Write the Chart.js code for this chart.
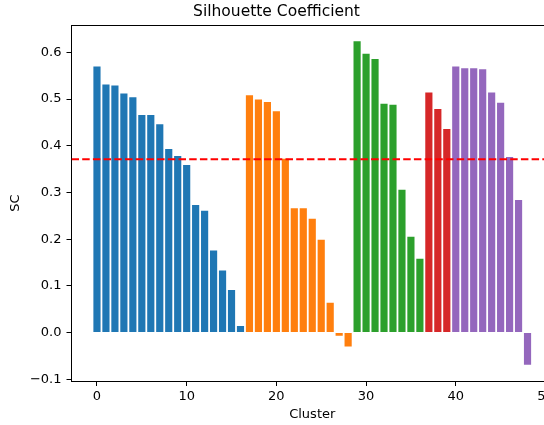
<!DOCTYPE html>
<html>
<head>
<meta charset="utf-8">
<script src="https://cdn.jsdelivr.net/npm/chart.js@4/dist/chart.umd.min.js"></script>
<style>
  html, body { margin: 0; padding: 0; background: #fff; overflow: hidden; }
  #wrap { width: 560px; height: 425px; }
</style>
</head>
<body>
<div id="wrap"><canvas id="scChart" width="560" height="425"></canvas></div>
<script>
// silhouette score per cluster, grouped by colour band
const blueSC   = [0.570, 0.531, 0.529, 0.512, 0.504, 0.466, 0.466, 0.446, 0.393, 0.378, 0.359, 0.273, 0.261, 0.176, 0.133, 0.091, 0.014];
const orangeSC = [0.508, 0.499, 0.494, 0.474, 0.372, 0.266, 0.266, 0.244, 0.199, 0.064, -0.007, -0.030];
const greenSC  = [0.624, 0.597, 0.586, 0.490, 0.488, 0.306, 0.205, 0.158];
const redSC    = [0.514, 0.479, 0.436];
const purpleSC = [0.570, 0.566, 0.566, 0.564, 0.514, 0.492, 0.376, 0.284, -0.069];

const groups = [
    { values: blueSC,   color: '#1f77b4' },
    { values: orangeSC, color: '#ff7f0e' },
    { values: greenSC,  color: '#2ca02c' },
    { values: redSC,    color: '#d62728' },
    { values: purpleSC, color: '#9467bd' }
];

const xTicks = [0, 10, 20, 30, 40, 50];
const yTicks = [-0.1, 0.0, 0.1, 0.2, 0.3, 0.4, 0.5, 0.6];

// flatten into one bar series, cluster index = position
const points = [];
const colors = [];
groups.forEach(g => {
    g.values.forEach(v => {
        points.push({ x: points.length, y: v });
        colors.push(g.color);
    });
});
const meanSC = points.reduce((s, p) => s + p.y, 0) / points.length;

// matplotlib-like 5% margins around the data
const xMin = -0.4 - 0.05 * (points.length - 1 + 0.8);
const xMax = points.length - 1 + 0.4 + 0.05 * (points.length - 1 + 0.8);
const yLo = Math.min(0, ...points.map(p => p.y));
const yHi = Math.max(...points.map(p => p.y));
const yMin = yLo - 0.05 * (yHi - yLo);
const yMax = yHi + 0.05 * (yHi - yLo);

const fontFamily = '"DejaVu Sans", sans-serif';
const fmt = v => v.toFixed(1).replace('-', '\u2212');

// top/right spines
const frame = {
    id: 'frame',
    afterDraw(chart) {
        const { ctx, chartArea: a } = chart;
        ctx.save();
        ctx.strokeStyle = '#000';
        ctx.lineWidth = 1;
        ctx.beginPath();
        ctx.moveTo(a.left, a.top + 0.5);
        ctx.lineTo(a.right, a.top + 0.5);
        ctx.moveTo(a.right - 0.5, a.top);
        ctx.lineTo(a.right - 0.5, a.bottom);
        ctx.stroke();
        ctx.restore();
    }
};

new Chart(document.getElementById('scChart'), {
    data: {
        datasets: [
            {
                type: 'line',
                label: 'mean',
                data: [{ x: xMin, y: meanSC }, { x: xMax, y: meanSC }],
                borderColor: '#ff0000',
                borderWidth: 2,
                borderDash: [7.5, 3.2],
                pointRadius: 0,
                order: 0
            },
            {
                type: 'bar',
                label: 'SC',
                data: points,
                backgroundColor: colors,
                borderWidth: 0,
                barPercentage: 0.8,
                categoryPercentage: 1.0,
                order: 1
            }
        ]
    },
    options: {
        responsive: false,
        animation: false,
        layout: { padding: { left: 0, right: 7, top: 0, bottom: 0 } },
        scales: {
            x: {
                type: 'linear',
                min: xMin,
                max: xMax,
                offset: false,
                afterBuildTicks: s => { s.ticks = xTicks.map(v => ({ value: v })); },
                afterFit: s => { s.height = 44; },
                grid: { offset: false, drawOnChartArea: false, drawTicks: true, tickLength: 5, tickColor: '#000' },
                border: { color: '#000', width: 1 },
                ticks: { color: '#000', font: { family: fontFamily, size: 13 }, padding: 3, maxRotation: 0 },
                title: { display: true, text: 'Cluster', color: '#000', font: { family: fontFamily, size: 13 }, padding: { top: 0, bottom: 3 } }
            },
            y: {
                min: yMin,
                max: yMax,
                afterBuildTicks: s => { s.ticks = yTicks.map(v => ({ value: v })); },
                afterFit: s => { s.width = 71.5; },
                grid: { drawOnChartArea: false, drawTicks: true, tickLength: 5, tickColor: '#000' },
                border: { color: '#000', width: 1 },
                ticks: { color: '#000', font: { family: fontFamily, size: 13 }, padding: 5, callback: v => fmt(v) },
                title: { display: true, text: 'SC', color: '#000', font: { family: fontFamily, size: 13 }, padding: { top: 8, bottom: 0 } }
            }
        },
        plugins: {
            legend: { display: false },
            tooltip: { enabled: false },
            title: {
                display: true,
                text: 'Silhouette Coefficient',
                color: '#000',
                font: { family: fontFamily, size: 15.5, weight: 'normal' },
                padding: { top: 3, bottom: 3.4 }
            }
        }
    },
    plugins: [frame]
});
</script>
</body>
</html>
